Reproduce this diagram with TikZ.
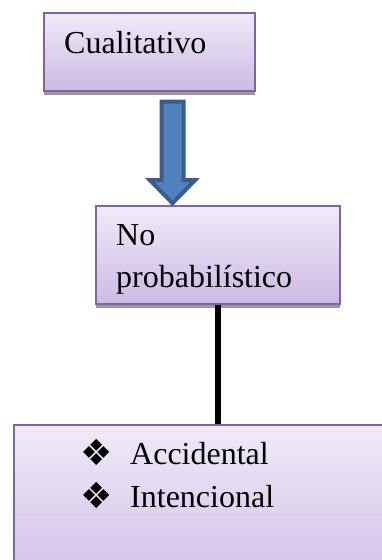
\documentclass[tikz,border=0pt]{standalone}
\usepackage{fontspec}
\setmainfont{Liberation Serif}
\newfontfamily\dingfont{DejaVu Sans}
\usepackage{tikz}
\usetikzlibrary{shadows}
\definecolor{cajaborde}{RGB}{128,100,162}
\definecolor{cajaarriba}{RGB}{240,234,248}
\definecolor{cajaabajo}{RGB}{204,187,228}
\definecolor{flecha}{RGB}{79,129,189}
\definecolor{flechaborde}{RGB}{56,93,138}

\begin{document}
\begin{tikzpicture}[x=1pt,y=-1pt,
  caja/.style={draw=cajaborde,line width=1.5pt,top color=cajaarriba,bottom color=cajaabajo,
    drop shadow={shadow xshift=0.5pt,shadow yshift=-4pt,fill=black!40,opacity=1},
    anchor=north west,inner sep=0pt},
  texto/.style={anchor=base west,font=\fontsize{32}{38}\selectfont,inner sep=0pt},
  vineta/.style={font=\dingfont\fontsize{36}{40}\selectfont,inner sep=0pt}]
\useasboundingbox (0,0) rectangle (382,560);
\clip (0,0) rectangle (382,560);
% cajas
\node[caja,minimum width=211pt,minimum height=78pt] (cual) at (43,12) {};
\node[texto] (cualtxt) at (64,53) {Cualitativo};
\node[caja,minimum width=244pt,minimum height=98pt] (noprob) at (95,205) {};
\node[texto] (notxt) at (116,245) {No};
\node[texto] (probtxt) at (116,287) {probabilístico};
\node[caja,minimum width=406pt,minimum height=180pt] (tipos) at (13,424) {};
\foreach \palabra/\yb in {Accidental/464,Intencional/507}{ \node[vineta] (v\palabra) at (96.5,\yb-11.5) {❖}; \node[texto] (t\palabra) at (130,\yb) {\palabra}; }
% flecha
\draw[flechaborde,fill=flecha,line width=4pt,miter limit=10] (161.5,101.5) -- (183.5,101.5) -- (183.5,180) -- (195.2,180) -- (172.5,203.2) -- (149.8,180) -- (161.5,180) -- cycle;
\draw[line width=6pt] (noprob.south) -- (noprob.south |- tipos.north);
\end{tikzpicture}
\end{document}
